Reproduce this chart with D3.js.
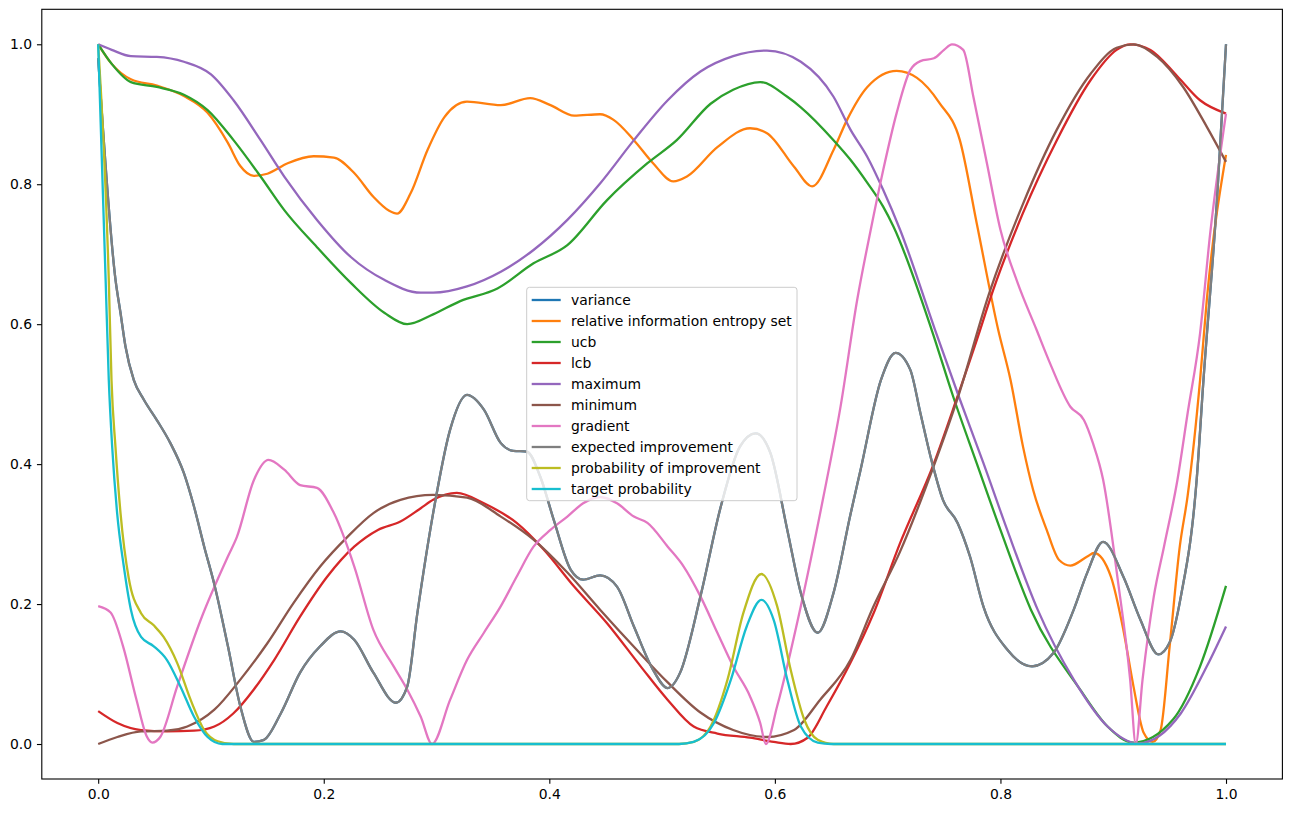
<!DOCTYPE html>
<html>
<head>
<meta charset="utf-8">
<script src="https://cdn.jsdelivr.net/npm/d3@7"></script>
<style>
    body { margin: 0; background: #fff; }
    svg { display: block; font-family: "DejaVu Sans", sans-serif; }
</style>
</head>
<body>
<svg id="chart"></svg>
<script>
// values, as [x, y] pairs
let relativeEntropy = [
    [0, 1.0], [0.012, 0.972], [0.029, 0.950], [0.052, 0.941], [0.076, 0.926], [0.097, 0.902],
    [0.115, 0.859], [0.126, 0.826], [0.138, 0.812], [0.150, 0.815], [0.168, 0.830], [0.191, 0.840],
    [0.209, 0.838], [0.227, 0.816], [0.244, 0.782], [0.258, 0.762], [0.265, 0.758], [0.277, 0.787],
    [0.292, 0.849], [0.307, 0.896], [0.327, 0.918], [0.357, 0.913], [0.383, 0.923], [0.401, 0.913],
    [0.422, 0.898], [0.445, 0.900], [0.457, 0.892], [0.475, 0.863], [0.492, 0.830], [0.510, 0.804],
    [0.522, 0.811], [0.549, 0.853], [0.578, 0.880], [0.593, 0.873], [0.617, 0.825], [0.633, 0.797],
    [0.652, 0.849], [0.664, 0.892], [0.682, 0.939], [0.708, 0.962], [0.726, 0.952], [0.746, 0.916],
    [0.764, 0.863], [0.779, 0.744], [0.798, 0.592], [0.809, 0.520], [0.820, 0.425], [0.829, 0.363],
    [0.841, 0.306], [0.852, 0.263], [0.862, 0.255], [0.877, 0.268], [0.883, 0.273], [0.898, 0.239],
    [0.909, 0.163], [0.918, 0.082], [0.927, 0.016], [0.935, 0.003], [0.942, 0.020], [0.950, 0.139],
    [0.959, 0.282], [0.966, 0.355], [0.977, 0.520], [0.983, 0.635], [1.0, 0.842]
];

let ucb = [
    [0, 1.0], [0.012, 0.972], [0.029, 0.946], [0.052, 0.939], [0.076, 0.928], [0.097, 0.906],
    [0.120, 0.863], [0.144, 0.811], [0.165, 0.763], [0.194, 0.710], [0.224, 0.659], [0.254, 0.616],
    [0.274, 0.600], [0.297, 0.614], [0.321, 0.633], [0.354, 0.651], [0.386, 0.687], [0.416, 0.713],
    [0.451, 0.777], [0.487, 0.830], [0.513, 0.863], [0.543, 0.915], [0.563, 0.935], [0.587, 0.946],
    [0.611, 0.925], [0.623, 0.910], [0.652, 0.863], [0.667, 0.835], [0.682, 0.802], [0.696, 0.768],
    [0.705, 0.740], [0.739, 0.592], [0.758, 0.497], [0.779, 0.401], [0.800, 0.306], [0.827, 0.192],
    [0.871, 0.077], [0.895, 0.025], [0.918, 0.002], [0.953, 0.035], [0.977, 0.111], [1.0, 0.226]
];

let lcb = [
    [0, 0.047], [0.017, 0.030], [0.038, 0.020], [0.061, 0.018], [0.085, 0.019], [0.103, 0.025],
    [0.120, 0.044], [0.138, 0.078], [0.156, 0.120], [0.179, 0.182], [0.203, 0.239], [0.227, 0.282],
    [0.248, 0.306], [0.268, 0.318], [0.286, 0.337], [0.297, 0.349], [0.318, 0.359], [0.342, 0.344],
    [0.371, 0.316], [0.395, 0.278], [0.422, 0.225], [0.451, 0.173], [0.481, 0.111], [0.505, 0.063],
    [0.528, 0.025], [0.549, 0.015], [0.578, 0.009], [0.599, 0.003], [0.614, 0.000], [0.629, 0.009],
    [0.646, 0.054], [0.667, 0.116], [0.687, 0.185], [0.711, 0.287], [0.741, 0.401], [0.762, 0.497],
    [0.782, 0.592], [0.790, 0.632], [0.820, 0.759], [0.850, 0.863], [0.880, 0.949], [0.903, 0.992],
    [0.915, 1.0], [0.933, 0.992], [0.957, 0.954], [0.977, 0.920], [1.0, 0.901]
];

let maximum = [
    [0, 1.0], [0.012, 0.992], [0.029, 0.983], [0.052, 0.982], [0.076, 0.975], [0.100, 0.957],
    [0.120, 0.920], [0.144, 0.863], [0.165, 0.811], [0.194, 0.749], [0.224, 0.696], [0.254, 0.663],
    [0.286, 0.645], [0.297, 0.645], [0.327, 0.654], [0.357, 0.675], [0.386, 0.706], [0.416, 0.749],
    [0.445, 0.801], [0.475, 0.863], [0.505, 0.920], [0.534, 0.961], [0.563, 0.983], [0.593, 0.991],
    [0.623, 0.975], [0.652, 0.925], [0.667, 0.878], [0.682, 0.839], [0.696, 0.792], [0.711, 0.735],
    [0.742, 0.592], [0.763, 0.497], [0.785, 0.401], [0.806, 0.306], [0.833, 0.192], [0.865, 0.092],
    [0.895, 0.025], [0.922, 0.001], [0.960, 0.044], [0.983, 0.111], [1.0, 0.168]
];

let minimum = [
    [0, 0.0], [0.017, 0.010], [0.038, 0.018], [0.061, 0.019], [0.079, 0.025], [0.103, 0.049],
    [0.126, 0.092], [0.150, 0.144], [0.173, 0.201], [0.197, 0.254], [0.221, 0.296], [0.244, 0.330],
    [0.268, 0.349], [0.297, 0.356], [0.327, 0.352], [0.357, 0.325], [0.386, 0.292], [0.416, 0.245],
    [0.445, 0.192], [0.475, 0.139], [0.505, 0.088], [0.534, 0.045], [0.563, 0.020], [0.593, 0.010],
    [0.617, 0.020], [0.640, 0.063], [0.667, 0.120], [0.687, 0.195], [0.711, 0.275], [0.741, 0.398],
    [0.762, 0.494], [0.790, 0.644], [0.820, 0.772], [0.850, 0.878], [0.880, 0.958], [0.903, 0.995],
    [0.918, 1.0], [0.939, 0.982], [0.962, 0.939], [0.983, 0.882], [1.0, 0.832]
];

let gradient = [
    [0, 0.197], [0.011, 0.188], [0.022, 0.140], [0.034, 0.063], [0.043, 0.011], [0.048, 0.002],
    [0.055, 0.010], [0.070, 0.082], [0.091, 0.178], [0.115, 0.268], [0.123, 0.296], [0.138, 0.377],
    [0.151, 0.406], [0.165, 0.392], [0.179, 0.370], [0.194, 0.366], [0.209, 0.330], [0.227, 0.254],
    [0.244, 0.163], [0.262, 0.111], [0.274, 0.078], [0.286, 0.039], [0.296, 0.0], [0.312, 0.063],
    [0.327, 0.120], [0.342, 0.159], [0.357, 0.197], [0.371, 0.239], [0.386, 0.282], [0.401, 0.306],
    [0.416, 0.325], [0.430, 0.344], [0.445, 0.353], [0.460, 0.344], [0.475, 0.325], [0.487, 0.316],
    [0.505, 0.282], [0.519, 0.254], [0.534, 0.211], [0.549, 0.159], [0.563, 0.111], [0.578, 0.068],
    [0.587, 0.030], [0.592, 0.0], [0.602, 0.054], [0.623, 0.197], [0.643, 0.353], [0.658, 0.480],
    [0.673, 0.635], [0.685, 0.735], [0.696, 0.820], [0.708, 0.902], [0.720, 0.963], [0.729, 0.976],
    [0.741, 0.980], [0.750, 0.992], [0.757, 1.0], [0.767, 0.992], [0.776, 0.925], [0.788, 0.830],
    [0.800, 0.735], [0.815, 0.660], [0.832, 0.592], [0.844, 0.544], [0.862, 0.482], [0.874, 0.463],
    [0.882, 0.430], [0.891, 0.378], [0.904, 0.235], [0.915, 0.092], [0.920, 0.0], [0.926, 0.092],
    [0.936, 0.211], [0.945, 0.282], [0.957, 0.378], [0.966, 0.473], [0.977, 0.587], [0.986, 0.730],
    [1.0, 0.901]
];

let expectedImprovement = [
    [0, 0.980], [0.0154, 0.663], [0.0198, 0.616], [0.0242, 0.568], [0.0316, 0.520], [0.0405, 0.492],
    [0.052, 0.463], [0.064, 0.430], [0.076, 0.387], [0.085, 0.339], [0.094, 0.282], [0.103, 0.228],
    [0.115, 0.140], [0.126, 0.054],
    [0.138, 0.003], [0.147, 0.006], [0.162, 0.044], [0.179, 0.102], [0.197, 0.140], [0.215, 0.161],
    [0.227, 0.149], [0.244, 0.102], [0.264, 0.059], [0.274, 0.082], [0.283, 0.187], [0.297, 0.330],
    [0.312, 0.449], [0.327, 0.499], [0.342, 0.478], [0.357, 0.430], [0.368, 0.419], [0.380, 0.418],
    [0.392, 0.382], [0.404, 0.320], [0.419, 0.249], [0.430, 0.235], [0.445, 0.241], [0.460, 0.225],
    [0.475, 0.168], [0.492, 0.106], [0.505, 0.080], [0.516, 0.102], [0.534, 0.211], [0.552, 0.339],
    [0.569, 0.425], [0.583, 0.444], [0.596, 0.416], [0.611, 0.306], [0.623, 0.216], [0.638, 0.159],
    [0.652, 0.216], [0.667, 0.328], [0.676, 0.392], [0.694, 0.520], [0.707, 0.559], [0.720, 0.535],
    [0.729, 0.473], [0.738, 0.411], [0.749, 0.349], [0.762, 0.316], [0.773, 0.268], [0.785, 0.196],
    [0.806, 0.135], [0.828, 0.111], [0.847, 0.130], [0.865, 0.192], [0.877, 0.245], [0.891, 0.289],
    [0.909, 0.239], [0.924, 0.178], [0.940, 0.128], [0.950, 0.145], [0.960, 0.211], [0.974, 0.378],
    [0.980, 0.520], [0.992, 0.778], [1.0, 1.0]
];

// variance sits exactly under the expected improvement curve in the picture
let variance = expectedImprovement;

let probImprovement = [
    [0, 1.0], [0.0094, 0.663], [0.0118, 0.520], [0.0153, 0.425], [0.0198, 0.330], [0.0271, 0.237],
    [0.038, 0.187], [0.049, 0.170], [0.058, 0.153], [0.070, 0.116], [0.082, 0.063], [0.094, 0.020],
    [0.106, 0.004], [0.120, 0.0], [0.515, 0.0], [0.528, 0.003], [0.543, 0.025], [0.558, 0.092],
    [0.572, 0.187], [0.588, 0.243], [0.602, 0.197], [0.614, 0.106], [0.626, 0.035], [0.638, 0.006],
    [0.652, 0.0], [1.0, 0.0]
];

let targetProb = [
    [0, 1.0], [0.0066, 0.663], [0.0094, 0.520], [0.0124, 0.425], [0.0168, 0.330], [0.0227, 0.254],
    [0.029, 0.192], [0.038, 0.153], [0.049, 0.140], [0.061, 0.120], [0.073, 0.082], [0.085, 0.039],
    [0.097, 0.010], [0.110, 0.0], [0.515, 0.0], [0.528, 0.003], [0.546, 0.030], [0.561, 0.092],
    [0.575, 0.168], [0.588, 0.206], [0.599, 0.177], [0.611, 0.092], [0.623, 0.025], [0.638, 0.002],
    [0.650, 0.0], [1.0, 0.0]
];

let seriesNames = ["variance", "relative information entropy set", "ucb", "lcb", "maximum",
    "minimum", "gradient", "expected improvement", "probability of improvement", "target probability"];
let seriesData = [variance, relativeEntropy, ucb, lcb, maximum,
    minimum, gradient, expectedImprovement, probImprovement, targetProb];
let seriesColors = d3.schemeCategory10;

let xTicks = [0, 0.2, 0.4, 0.6, 0.8, 1.0];
let yTicks = [0, 0.2, 0.4, 0.6, 0.8, 1.0];

let width = 1291;
let height = 813;
let plotLeft = 41.8, plotRight = 1282.4, plotTop = 9.3, plotBottom = 779;
let fontSize = 13.9;
let tickLen = 4.86;
let lineWidth = 2.3;

let svg = d3.select("#chart")
    .attr("width", width)
    .attr("height", height);

let x = d3.scaleLinear().domain([-0.05, 1.05]).range([plotLeft, plotRight]);
let y = d3.scaleLinear().domain([-0.05, 1.05]).range([plotBottom, plotTop]);

let line = d3.line()
    .x(d => x(d[0]))
    .y(d => y(d[1]))
    .curve(d3.curveMonotoneX);

// draw series in legend order, last one on top
svg.append("g")
    .selectAll("path")
    .data(seriesData)
    .enter()
    .append("path")
        .attr("d", d => line(d))
        .attr("fill", "none")
        .attr("stroke", (d, i) => seriesColors[i])
        .attr("stroke-width", lineWidth)
        .attr("stroke-linejoin", "round");

// axes
let xAxis = svg.append("g")
    .attr("transform", `translate(0,${plotBottom})`)
    .call(d3.axisBottom(x)
        .tickValues(xTicks)
        .tickFormat(d3.format(".1f"))
        .tickSizeInner(tickLen)
        .tickSizeOuter(0)
        .tickPadding(tickLen));

let yAxis = svg.append("g")
    .attr("transform", `translate(${plotLeft},0)`)
    .call(d3.axisLeft(y)
        .tickValues(yTicks)
        .tickFormat(d3.format(".1f"))
        .tickSizeInner(tickLen)
        .tickSizeOuter(0)
        .tickPadding(tickLen));

for (let ax of [xAxis, yAxis]) {
    ax.select(".domain").remove();
    ax.attr("font-family", "DejaVu Sans, sans-serif").attr("font-size", fontSize);
    ax.selectAll(".tick line").attr("stroke", "#000").attr("stroke-width", 1.1);
    ax.selectAll(".tick text").attr("fill", "#000");
}

// frame
svg.append("rect")
    .attr("x", plotLeft)
    .attr("y", plotTop)
    .attr("width", plotRight - plotLeft)
    .attr("height", plotBottom - plotTop)
    .attr("fill", "none")
    .attr("stroke", "#000")
    .attr("stroke-width", 1.1);

// legend
let legend = svg.append("g").attr("transform", "translate(526.7,287.3)");
legend.append("rect")
    .attr("width", 270.3)
    .attr("height", 213.4)
    .attr("rx", 2.8)
    .attr("fill", "#fff")
    .attr("fill-opacity", 0.8)
    .attr("stroke", "#cccccc")
    .attr("stroke-width", 1);

let rows = legend.selectAll(".row")
    .data(seriesNames)
    .enter()
    .append("g")
        .attr("class", "row")
        .attr("transform", (d, i) => `translate(0,${12.7 + i * 21})`);

rows.append("line")
    .attr("x1", 5)
    .attr("x2", 34)
    .attr("stroke", (d, i) => seriesColors[i])
    .attr("stroke-width", lineWidth);

rows.append("text")
    .attr("x", 44.3)
    .attr("dy", "0.36em")
    .attr("font-size", fontSize)
    .attr("fill", "#000")
    .text(d => d);
</script>
</body>
</html>
